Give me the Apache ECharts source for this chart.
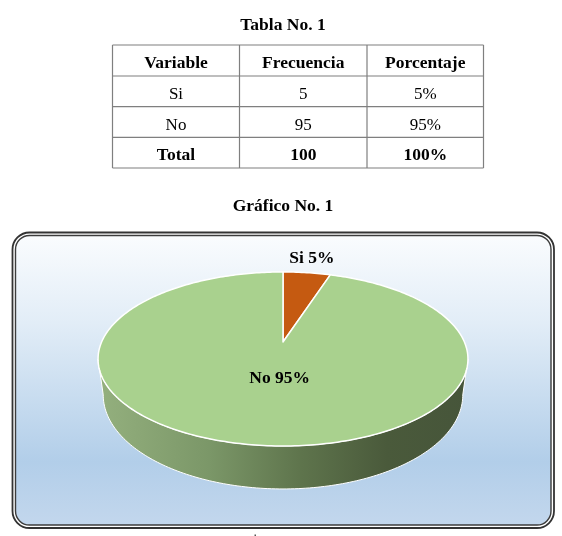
<!DOCTYPE html>
<html>
<head>
<meta charset="utf-8">
<style>html,body{margin:0;padding:0;background:#fff}#chart{width:562px;height:536px}</style>
<script src="https://cdn.jsdelivr.net/npm/echarts@6/dist/echarts.min.js"></script>
</head>
<body>
<div id="chart"></div>
<script>
// Survey answers
const sliceNames = ['Si', 'No'];
const sliceValues = [5, 95];

// Frequency table
const tableTitle = 'Tabla No. 1';
const chartTitle = 'Gráfico No. 1';
const tableHeader = ['Variable', 'Frecuencia', 'Porcentaje'];
const tableRows = [['Si', '5', '5%'], ['No', '95', '95%']];
const tableTotal = ['Total', '100', '100%'];

// Appearance of each slice
const sliceStyle = [
  {color: '#c55a11', labelRadius: 1.26, labelShiftX: 0},
  {color: '#a9d18e', labelRadius: 0.4, labelShiftX: 9}
];

const SERIF = '"Liberation Serif", "Times New Roman", serif';
const colX = [112.5, 239.5, 367, 483.5];
const rowY = [45, 76, 106.7, 137.3, 168];

// Tilted disc: a perspective projection of the unit circle
const disc = {cx: 283, cy: 342, bx: 181.4, by: 83.7, k: 0.195, depth: 34.6, shrink: 0.972};
function project(theta, r, lower) {
  const u = r * Math.sin(theta), v = -r * Math.cos(theta);
  const w = 1 - disc.k * v;
  const sx = lower ? disc.shrink : 1;
  return [
    disc.cx + disc.bx * u / w * sx,
    disc.cy + disc.by * v / w + (lower ? disc.depth / w : 0)
  ];
}
function arcAngles(a0, a1) {
  const n = Math.max(2, Math.ceil((a1 - a0) / (Math.PI / 180)));
  const out = [];
  for (let i = 0; i <= n; i++) out.push(a0 + (a1 - a0) * i / n);
  return out;
}
const total = sliceValues.reduce((a, b) => a + b, 0);

function renderSlice(params, api) {
  const i = params.dataIndex;
  const before = sliceValues.slice(0, i).reduce((a, b) => a + b, 0);
  const a0 = before / total * 2 * Math.PI;
  const a1 = (before + api.value(0)) / total * 2 * Math.PI;
  const mid = (a0 + a1) / 2;
  const children = [];

  // Outer wall: only the part of the rim facing the viewer
  const limit = Math.acos(-disc.k);
  const lo = Math.max(a0, limit), hi = Math.min(a1, 2 * Math.PI - limit);
  if (hi > lo) {
    const angles = arcAngles(lo, hi);
    const pts = angles.map(a => project(a, 1, false))
      .concat(angles.slice().reverse().map(a => project(a, 1, true)));
    children.push({
      type: 'polygon',
      shape: {points: pts},
      style: {
        fill: {
          type: 'linear', global: true, x: 98, y: 0, x2: 468, y2: 0,
          colorStops: [
            {offset: 0, color: '#94b07e'},
            {offset: 0.3, color: '#7b9768'},
            {offset: 0.55, color: '#5e744c'},
            {offset: 0.78, color: '#4a5a3b'},
            {offset: 1, color: '#46553a'}
          ]
        },
        stroke: '#ffffff',
        lineWidth: 1
      }
    });
  }

  // Top face
  const top = [[disc.cx, disc.cy]].concat(arcAngles(a0, a1).map(a => project(a, 1, false)));
  children.push({
    type: 'polygon',
    shape: {points: top},
    style: {fill: sliceStyle[i].color, stroke: '#ffffff', lineWidth: 1.5, lineJoin: 'round'}
  });

  // Value label
  const p = project(mid, sliceStyle[i].labelRadius, false);
  children.push({
    type: 'text',
    z2: 10,
    style: {
      x: p[0] + sliceStyle[i].labelShiftX, y: p[1] + 0.5,
      text: sliceNames[i] + ' ' + api.value(0) + '%',
      font: 'bold 17.5px ' + SERIF,
      fill: '#000000',
      textAlign: 'center',
      textVerticalAlign: 'middle'
    }
  });
  return {type: 'group', children};
}

function cellText(text, x, y, bold) {
  return {
    type: 'text',
    style: {
      x, y, text,
      font: (bold ? 'bold 17.5px ' : '17px ') + SERIF,
      fill: '#000000',
      textAlign: 'center',
      textVerticalAlign: 'middle'
    }
  };
}
function rule(x1, y1, x2, y2) {
  return {type: 'line', shape: {x1, y1, x2, y2}, style: {stroke: '#7f7f7f', lineWidth: 1.2}};
}

const tableItems = [];
colX.forEach(x => tableItems.push(rule(x, rowY[0], x, rowY[4])));
rowY.forEach(y => tableItems.push(rule(colX[0], y, colX[3], y)));
[tableHeader].concat(tableRows, [tableTotal]).forEach((row, r) => {
  const bold = r === 0 || r === tableRows.length + 1;
  row.forEach((t, c) => {
    tableItems.push(cellText(t, (colX[c] + colX[c + 1]) / 2, (rowY[r] + rowY[r + 1]) / 2 + 3.2, bold));
  });
});

const panel = [
  {
    type: 'rect',
    shape: {x: 12.5, y: 232.5, width: 541.5, height: 295.5, r: 17},
    style: {fill: '#ffffff', stroke: '#333333', lineWidth: 1.8}
  },
  {
    type: 'rect',
    shape: {x: 15.5, y: 235.5, width: 535.5, height: 289.5, r: 14},
    style: {
      stroke: '#3c3c3c',
      lineWidth: 1.4,
      fill: {
        type: 'linear', x: 0, y: 0, x2: 0, y2: 1,
        colorStops: [
          {offset: 0, color: '#fafcfe'},
          {offset: 0.3, color: '#e2edf7'},
          {offset: 0.78, color: '#b2cee9'},
          {offset: 1, color: '#c3d7ed'}
        ]
      }
    }
  }
];

const chart = echarts.init(document.getElementById('chart'), null, {renderer: 'canvas'});
chart.setOption({
  animation: false,
  backgroundColor: '#ffffff',
  graphic: {
    elements: panel.concat(
      [cellText(tableTitle, 283, 25.5, true), cellText(chartTitle, 283, 206, true)],
      tableItems,
      [{type: 'rect', shape: {x: 254.5, y: 534.5, width: 1.5, height: 1.5}, style: {fill: '#555555'}}]
    ).map(el => Object.assign({z: -1, silent: true}, el))
  },
  series: [{
    type: 'custom',
    coordinateSystem: 'none',
    silent: true,
    clip: false,
    renderItem: renderSlice,
    data: sliceValues.map((v, i) => ({name: sliceNames[i], value: [v]}))
  }]
});
</script>
</body>
</html>
